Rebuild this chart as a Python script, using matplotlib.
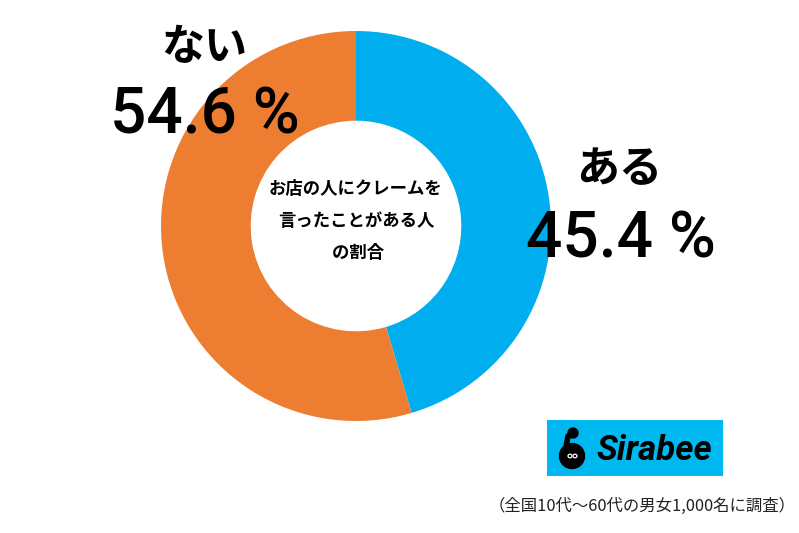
import matplotlib.pyplot as plt
from matplotlib.patches import Circle, Rectangle, Ellipse
import matplotlib.lines as mlines

# data
labels = ['ある', 'ない']
values = [45.4, 54.6]
colors = ['#00AEEF', '#ED7D31']
center_title = 'お店の人にクレームを\n言ったことがある人\n の割合'
note = '（全国10代～60代の男女1,000名に調査）'

W, H = 799, 533
fig = plt.figure(figsize=(W / 100, H / 100), dpi=100)
fig.patch.set_facecolor('white')

# donut axes, placed in pixels
cx, cy, r = 356, 226, 195
pie_ax = fig.add_axes([(cx - r) / W, (H - cy - r) / H, 2 * r / W, 2 * r / H])
pie_ax.pie(values, colors=colors, startangle=90, counterclock=False,
           radius=1, wedgeprops=dict(width=0.46, linewidth=0))
pie_ax.set_xlim(-1, 1)
pie_ax.set_ylim(-1, 1)
pie_ax.axis('off')

# overlay axes in pixel coords for text and logo
ax = fig.add_axes([0, 0, 1, 1], zorder=5)
ax.set_xlim(0, W)
ax.set_ylim(H, 0)
ax.axis('off')

jp = ['Noto Sans CJK JP', 'DejaVu Sans']
num = ['Roboto', 'Noto Sans CJK JP']

ax.text(356, 221, center_title, ha='center', va='center', fontsize=12.5,
        fontweight='bold', family=jp, linespacing=2.0)

# category labels
ax.text(204, 47, labels[1], ha='center', va='center', fontsize=31,
        fontweight='bold', family=jp)
ax.text(205, 116, f'{values[1]} %', ha='center', va='center', fontsize=46,
        fontweight=500, family=num)
ax.text(619, 169, labels[0], ha='center', va='center', fontsize=31,
        fontweight='bold', family=jp)
ax.text(621, 240, f'{values[0]} %', ha='center', va='center', fontsize=46,
        fontweight=500, family=num)

# Sirabee logo
ax.add_patch(Rectangle((547, 420), 176, 56, color='#00B8F0', lw=0))
ax.add_patch(Circle((572, 456), 12.5, color='black'))
ax.add_line(mlines.Line2D([566, 568], [447, 436], color='black', lw=4,
                          solid_capstyle='round'))
ax.add_patch(Circle((573, 433), 5, color='black'))
ax.add_patch(Ellipse((570, 456), 4, 3.5, fill=False, ec='white', lw=0.9))
ax.add_patch(Ellipse((575, 456), 4, 3.5, fill=False, ec='white', lw=0.9))
ax.text(596, 450, 'Sirabee', ha='left', va='center', fontsize=25,
        fontweight='bold', fontstyle='italic', family=['Roboto', 'DejaVu Sans'])

ax.text(796, 506, note, ha='right', va='center', fontsize=11.8, family=jp,
        color='#222222')

fig.savefig('out.png', dpi=100)
